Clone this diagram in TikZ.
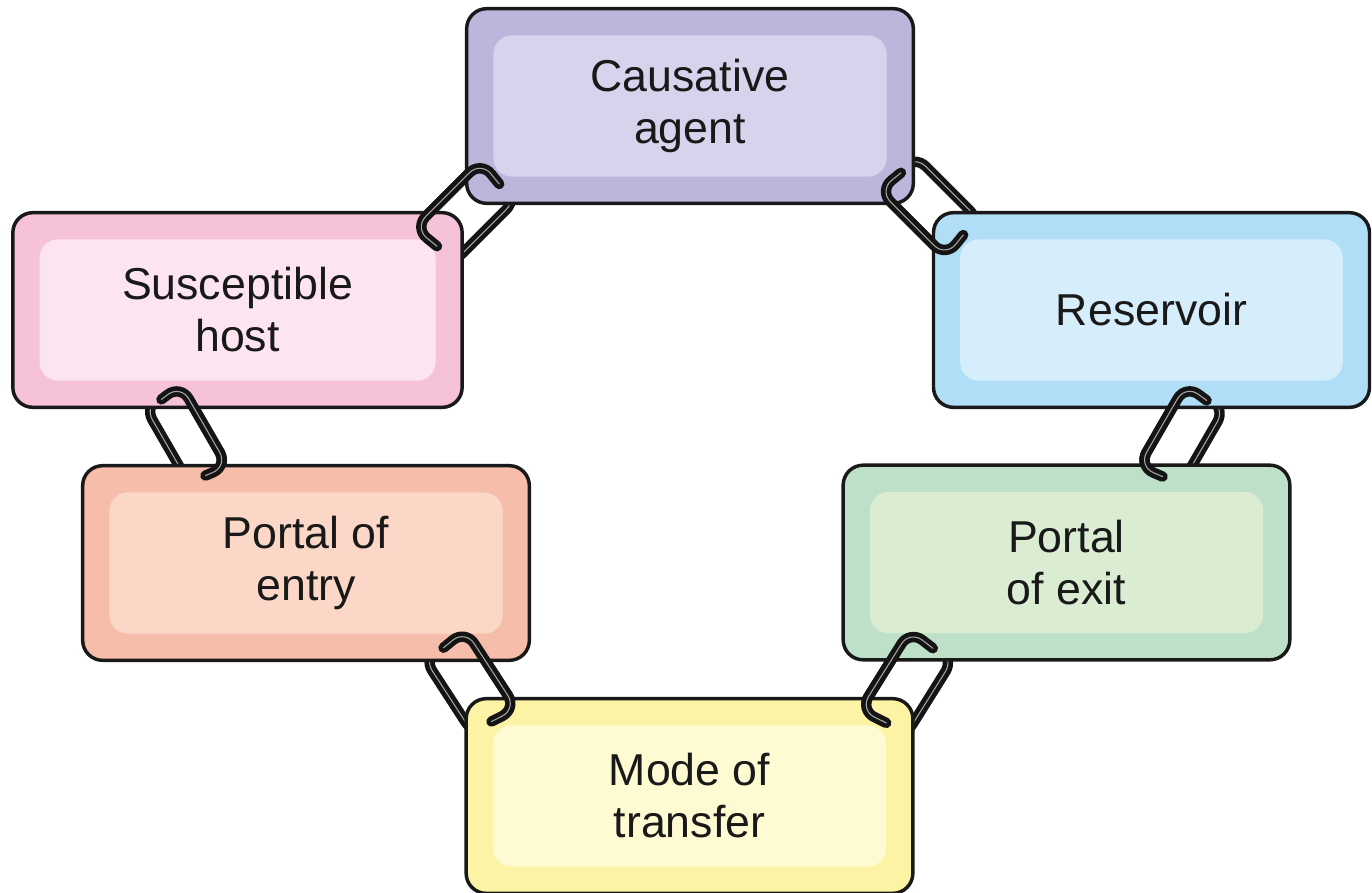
\documentclass[tikz,border=0pt]{standalone}
\usepackage{fontspec}
\setmainfont{Liberation Sans}

\definecolor{agentOut}{RGB}{187,183,220}
\definecolor{agentIn}{RGB}{214,212,236}
\definecolor{hostOut}{RGB}{246,194,218}
\definecolor{hostIn}{RGB}{252,229,241}
\definecolor{resOut}{RGB}{176,222,246}
\definecolor{resIn}{RGB}{214,237,251}
\definecolor{entryOut}{RGB}{246,190,170}
\definecolor{entryIn}{RGB}{250,215,198}
\definecolor{exitOut}{RGB}{190,224,200}
\definecolor{exitIn}{RGB}{218,236,210}
\definecolor{modeOut}{RGB}{252,243,165}
\definecolor{modeIn}{RGB}{254,250,210}

\tikzset{every picture/.style={line width=0.75pt}}
\tikzset{
  panel/.style={draw=black!90, line width=2.6pt, rounded corners=15pt, minimum width=335pt, minimum height=146pt, inner sep=0pt},
  inset/.style={rounded corners=14pt, minimum width=295pt, minimum height=106pt, inner sep=0pt, align=center, text=black!90, font=\fontsize{33.5}{39}\selectfont},
  chain/.style={draw=black!92, line width=3.5pt, double=black!35, double distance=0.8pt, line cap=round, rounded corners=12pt},
  linkA/.style={shift={(466,213)}, rotate=-45},
  linkB/.style={shift={(930,206)}, rotate=45},
  linkC/.style={shift={(186,436)}, rotate=60},
  linkD/.style={shift={(1182,437)}, rotate=120},
  linkE/.style={shift={(470,683)}, rotate=57},
  linkF/.style={shift={(907,684)}, rotate=122}
}

\begin{document}
\begin{tikzpicture}[x=0.75pt,y=0.75pt,yscale=-1,xscale=1]
\useasboundingbox (0,0) rectangle (1372,893);

%Chain links, back part
\begin{scope}[linkA] \draw[chain] (-47,-26) rectangle (47,26); \end{scope}
\begin{scope}[linkB] \draw[chain] (-47,-25) rectangle (47,25); \end{scope}
\begin{scope}[linkC] \draw[chain] (-47,-21) rectangle (47,21); \end{scope}
\begin{scope}[linkD] \draw[chain] (-47,-23) rectangle (47,23); \end{scope}
\begin{scope}[linkE] \draw[chain] (-47,-25) rectangle (47,25); \end{scope}
\begin{scope}[linkF] \draw[chain] (-47,-26) rectangle (47,26); \end{scope}

%Rounded Rect: causative agent
\node[panel, fill=agentOut] (agentbox) at (690,106) {};
\node[inset, fill=agentIn] (agent) at (agentbox) {Causative\\agent};
%Rounded Rect: susceptible host
\node[panel, fill=hostOut, minimum width=337pt] (hostbox) at (237.5,310) {};
\node[inset, fill=hostIn, minimum width=297pt] (host) at (hostbox) {Susceptible\\host};
%Rounded Rect: reservoir
\node[panel, fill=resOut, minimum width=327pt] (resbox) at (1151.5,310) {};
\node[inset, fill=resIn, minimum width=287pt] (reservoir) at (resbox) {Reservoir};
%Rounded Rect: portal of entry
\node[panel, fill=entryOut] (entrybox) at (306,563) {};
\node[inset, fill=entryIn] (entry) at (entrybox) {Portal of\\entry};
%Rounded Rect: portal of exit
\node[panel, fill=exitOut] (exitbox) at (1066.5,562.5) {};
\node[inset, fill=exitIn] (exit) at (exitbox) {Portal\\of exit};
%Rounded Rect: mode of transfer
\node[panel, fill=modeOut] (modebox) at (689.5,796) {};
\node[inset, fill=modeIn] (mode) at (modebox) {Mode of\\transfer};

%Chain links, hooks in front
\begin{scope}[linkA] \draw[chain] (-44,3) -- (-47,-26) -- (47,-26) -- (44,3); \end{scope}
\begin{scope}[linkB] \draw[chain] (-44,-3) -- (-47,25) -- (47,25) -- (44,-3); \end{scope}
\begin{scope}[linkC] \draw[chain] (-44,3) -- (-47,-21) -- (47,-21) -- (44,3); \end{scope}
\begin{scope}[linkD] \draw[chain] (-44,-3) -- (-47,23) -- (47,23) -- (44,-3); \end{scope}
\begin{scope}[linkE] \draw[chain] (-44,3) -- (-47,-25) -- (47,-25) -- (44,3); \end{scope}
\begin{scope}[linkF] \draw[chain] (-44,-3) -- (-47,26) -- (47,26) -- (44,-3); \end{scope}

\end{tikzpicture}
\end{document}
